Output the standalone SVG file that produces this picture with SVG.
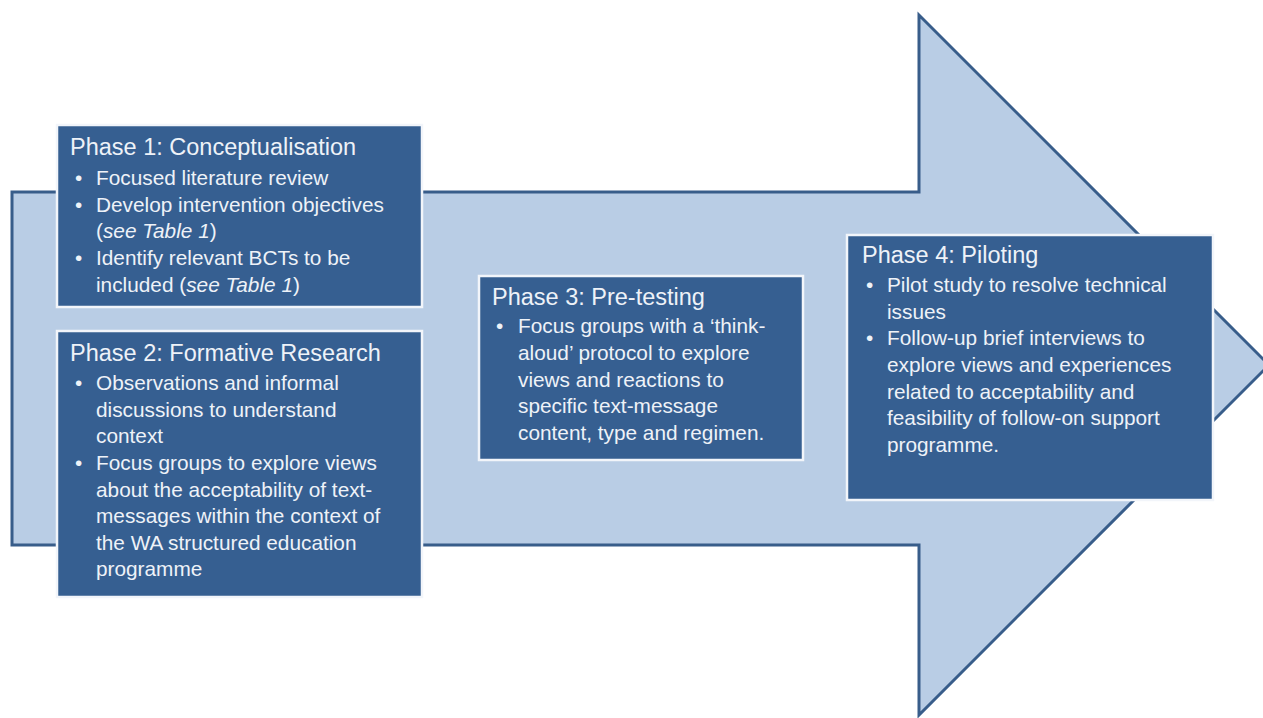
<svg xmlns="http://www.w3.org/2000/svg" width="1263" height="718" viewBox="0 0 1263 718">
<style>
.arrow{fill:#b9cde5;stroke:#385d8a;stroke-width:3;stroke-linejoin:miter}
.box{fill:#365f91;stroke:#f2f5fa;stroke-width:2.5}
.t{font-family:"Liberation Sans",Arial,sans-serif;fill:#eef2f8}
.h{font-size:23.5px}
.b{font-size:20.8px}
.i{font-style:italic}
</style>
<rect width="1263" height="718" fill="#ffffff"/>
<g id="arrow">
<path class="arrow" d="M12,192 L919,192 L919,15 L1269,365 L919,715 L919,545 L12,545 Z"/>
</g>
<g id="connectors"></g>
<g id="phase1">
<rect class="box" x="57" y="125" width="365" height="182"/>
<text class="t h" x="70" y="155">Phase 1: Conceptualisation</text>
<text class="t b" x="75" y="185">•</text><text class="t b" x="96" y="185">Focused literature review</text>
<text class="t b" x="75" y="212">•</text><text class="t b" x="96" y="212">Develop intervention objectives</text>
<text class="t b" x="96" y="238">(<tspan class="i">see Table 1</tspan>)</text>
<text class="t b" x="75" y="265">•</text><text class="t b" x="96" y="265">Identify relevant BCTs to be</text>
<text class="t b" x="96" y="292">included (<tspan class="i">see Table 1</tspan>)</text>
</g>
<g id="phase2">
<rect class="box" x="57" y="331" width="365" height="266"/>
<text class="t h" x="70" y="361">Phase 2: Formative Research</text>
<text class="t b" x="75" y="390">•</text><text class="t b" x="96" y="390">Observations and informal</text>
<text class="t b" x="96" y="417">discussions to understand</text>
<text class="t b" x="96" y="443">context</text>
<text class="t b" x="75" y="470">•</text><text class="t b" x="96" y="470">Focus groups to explore views</text>
<text class="t b" x="96" y="497">about the acceptability of text-</text>
<text class="t b" x="96" y="523">messages within the context of</text>
<text class="t b" x="96" y="550">the WA structured education</text>
<text class="t b" x="96" y="576">programme</text>
</g>
<g id="phase3">
<rect class="box" x="479" y="276" width="324" height="184"/>
<text class="t h" x="492" y="305">Phase 3: Pre-testing</text>
<text class="t b" x="496" y="333">•</text><text class="t b" x="518" y="333">Focus groups with a ‘think-</text>
<text class="t b" x="518" y="360">aloud’ protocol to explore</text>
<text class="t b" x="518" y="387">views and reactions to</text>
<text class="t b" x="518" y="413">specific text-message</text>
<text class="t b" x="518" y="440">content, type and regimen.</text>
</g>
<g id="phase4">
<rect class="box" x="847" y="235" width="366" height="265"/>
<text class="t h" x="862" y="263">Phase 4: Piloting</text>
<text class="t b" x="866" y="292">•</text><text class="t b" x="887" y="292">Pilot study to resolve technical</text>
<text class="t b" x="887" y="319">issues</text>
<text class="t b" x="866" y="345">•</text><text class="t b" x="887" y="345">Follow-up brief interviews to</text>
<text class="t b" x="887" y="372">explore views and experiences</text>
<text class="t b" x="887" y="399">related to acceptability and</text>
<text class="t b" x="887" y="425">feasibility of follow-on support</text>
<text class="t b" x="887" y="452">programme.</text>
</g>
</svg>
